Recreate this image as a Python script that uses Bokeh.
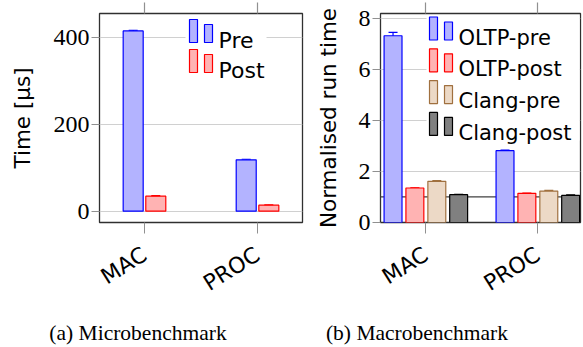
from bokeh.plotting import figure
from bokeh.models import (Range1d, FixedTicker, LinearAxis, ColumnDataSource, Whisker,
                          TeeHead, Span, Div)
from bokeh.layouts import row, column
from bokeh.embed import file_html
from bokeh.resources import INLINE
from bokeh.core.properties import value

# ---------------- data ----------------
categories = ["MAC", "PROC"]
cat_pos = [0, 1]

# (a) Microbenchmark, time in microseconds
pre_time = [416, 118.6]
pre_err = [1.5, 1.2]
post_time = [34.6, 13.8]
post_err = [1.2, 1.0]

# (b) Macrobenchmark, normalised run time
oltp_pre = [7.31, 2.81]
oltp_pre_err = [0.13, 0.02]
oltp_post = [1.35, 1.14]
oltp_post_err = [0.01, 0.01]
clang_pre = [1.61, 1.23]
clang_pre_err = [0.03, 0.03]
clang_post = [1.09, 1.06]
clang_post_err = [0.01, 0.02]

left_ticks = [0, 200, 400]
right_ticks = [0, 2, 4, 6, 8]

SANS = "DejaVu Sans"
SERIF = "Liberation Serif"
GRID = "#d0d0d0"
TICK = "#909090"
FRAME = "#303030"

BLUE = ("#b3b3ff", "#0000ff")
RED = ("#ffb3b3", "#ff0000")
BROWN = ("#ecd9c6", "#a0703f")
GRAY = ("#808080", "#000000")


def mapper(fl, ft, fw, fh, x0, x1, y0, y1):
    fx = lambda px: x0 + (px - fl) / fw * (x1 - x0)
    fy = lambda py: y1 - (py - ft) / fh * (y1 - y0)
    return fx, fy


def style(p, ticks, ylabel, label_standoff):
    p.xaxis.ticker = FixedTicker(ticks=cat_pos)
    p.xaxis.major_label_overrides = {i: c for i, c in zip(cat_pos, categories)}
    p.xaxis.major_label_orientation = 0.56
    p.xaxis.major_label_text_font = SANS
    p.xaxis.major_label_text_font_size = "22px"
    p.xaxis.major_label_text_color = "black"
    p.xaxis.major_label_standoff = 19
    p.xaxis.major_tick_out = 11
    p.xaxis.major_tick_in = 0
    p.xaxis.minor_tick_line_color = None
    p.xaxis.major_tick_line_color = TICK
    p.xaxis.axis_line_color = None

    p.yaxis.ticker = FixedTicker(ticks=ticks)
    p.yaxis.major_label_text_font = SERIF
    p.yaxis.major_label_text_font_size = "24px"
    p.yaxis.major_label_text_color = "black"
    p.yaxis.major_label_standoff = 2
    p.yaxis.major_tick_out = 8
    p.yaxis.major_tick_in = 0
    p.yaxis.minor_tick_line_color = None
    p.yaxis.major_tick_line_color = TICK
    p.yaxis.axis_line_color = None
    p.yaxis.axis_label = ylabel
    p.yaxis.axis_label_text_font = SANS
    p.yaxis.axis_label_text_font_size = "21.5px"
    p.yaxis.axis_label_text_font_style = "normal"
    p.yaxis.axis_label_text_color = "black"
    p.yaxis.axis_label_standoff = label_standoff

    top = LinearAxis(ticker=FixedTicker(ticks=cat_pos),
                     major_label_overrides={i: "" for i in cat_pos},
                     major_label_text_font_size="1px",
                     major_label_standoff=0, major_tick_out=11, major_tick_in=0,
                     major_tick_line_color=TICK, major_tick_line_width=1.2,
                     minor_tick_line_color=None, axis_line_color=None)
    p.add_layout(top, "above")

    p.xgrid.grid_line_color = None
    p.ygrid.ticker = FixedTicker(ticks=ticks)
    p.ygrid.grid_line_color = GRID
    p.ygrid.grid_line_width = 1
    p.outline_line_color = FRAME
    p.outline_line_width = 1.3
    p.background_fill_color = "white"
    p.border_fill_color = "white"


def bars(p, xs, vals, errs, width, colors, cap):
    src = ColumnDataSource(dict(x=xs, top=vals,
                                upper=[v + e for v, e in zip(vals, errs)],
                                lower=[v - e for v, e in zip(vals, errs)]))
    p.vbar(x="x", top="top", bottom=0, width=width, source=src,
           fill_color=colors[0], line_color=colors[1], line_width=1.2)
    w = Whisker(base="x", upper="upper", lower="lower", source=src,
                line_color=colors[1], line_width=1.2,
                upper_head=TeeHead(size=cap, line_color=colors[1], line_width=1.2),
                lower_head=TeeHead(size=cap, line_color=colors[1], line_width=1.2))
    p.add_layout(w)


def legend(p, fx, fy, box, rows, x_bar1, x_bar2, x_text, y0, dy, font_size):
    bl, br, bt, bb = box
    p.quad(left=[fx(bl)], right=[fx(br)], top=[fy(bt)], bottom=[fy(bb)],
           fill_color="white", line_color=None)
    for i, (name, colors) in enumerate(rows):
        yb = y0 + i * dy
        p.quad(left=[fx(x_bar1)], right=[fx(x_bar1 + 8)], top=[fy(yb - 23)], bottom=[fy(yb)],
               fill_color=colors[0], line_color=colors[1], line_width=1.2)
        p.quad(left=[fx(x_bar2)], right=[fx(x_bar2 + 8)], top=[fy(yb - 18)], bottom=[fy(yb)],
               fill_color=colors[0], line_color=colors[1], line_width=1.2)
        p.text(x=[fx(x_text)], y=[fy(yb - 2.5)], text=[name], text_font=value(SANS),
               text_font_size=font_size, text_baseline="alphabetic", text_align="left",
               text_color="black")


H = 320
# ---------------- (a) ----------------
ax0, ax1 = -0.398, 1.398
ay0, ay1 = -26.1, 456.1
p1 = figure(width=310, height=H, output_backend="svg", toolbar_location=None,
            x_range=Range1d(ax0, ax1), y_range=Range1d(ay0, ay1),
            min_border_left=99, min_border_right=8, min_border_top=13, min_border_bottom=98)
style(p1, left_ticks, "Time [μs]", 16)
bars(p1, [c - 0.1 for c in cat_pos], pre_time, pre_err, 0.177, BLUE, 9)
bars(p1, [c + 0.1 for c in cat_pos], post_time, post_err, 0.177, RED, 9)
fx1, fy1 = mapper(99, 13, 203, 209, ax0, ax1, ay0, ay1)
legend(p1, fx1, fy1, (185, 266, 15, 74), [("Pre", BLUE), ("Post", RED)],
       189, 204, 218, 42, 30, "22px")

# ---------------- (b) ----------------
bx0, bx1 = -0.405, 1.381
by0, by1 = 0, 8.18
p2 = figure(width=272, height=H, output_backend="svg", toolbar_location=None,
            x_range=Range1d(bx0, bx1), y_range=Range1d(by0, by1),
            min_border_left=70, min_border_right=2, min_border_top=13, min_border_bottom=98)
style(p2, right_ticks, "Normalised run time", 15)
p2.add_layout(Span(location=1, dimension="width", line_color="#404040", line_width=1.3,
                   level="underlay"))
offs = [-0.293, -0.098, 0.098, 0.293]
for off, vals, errs, col in zip(offs, [oltp_pre, oltp_post, clang_pre, clang_post],
                                [oltp_pre_err, oltp_post_err, clang_pre_err, clang_post_err],
                                [BLUE, RED, BROWN, GRAY]):
    bars(p2, [c + off for c in cat_pos], vals, errs, 0.16, col, 9)
fx2, fy2 = mapper(380, 13, 200, 209, bx0, bx1, by0, by1)
legend(p2, fx2, fy2, (426, 579, 15, 140),
       [("OLTP-pre", BLUE), ("OLTP-post", RED), ("Clang-pre", BROWN), ("Clang-post", GRAY)],
       429, 444, 458, 39.5, 31.8, "21px")

cap_style = {"font-family": SERIF, "font-size": "21.5px", "line-height": "24px",
             "text-align": "center", "color": "black", "width": "100%"}
d1 = Div(text="(a) Microbenchmark", width=276, height=26, margin=(0, 0, 0, 0),
         styles=dict(cap_style, **{"padding-top": "1px"}))
d2 = Div(text="(b) Macrobenchmark", width=282, height=26, margin=(0, 0, 0, 0),
         styles=dict(cap_style, **{"padding-top": "1px"}))

layout = column(row(p1, p2), row(d1, d2))
open("out.html", "w").write(file_html(layout, INLINE))
